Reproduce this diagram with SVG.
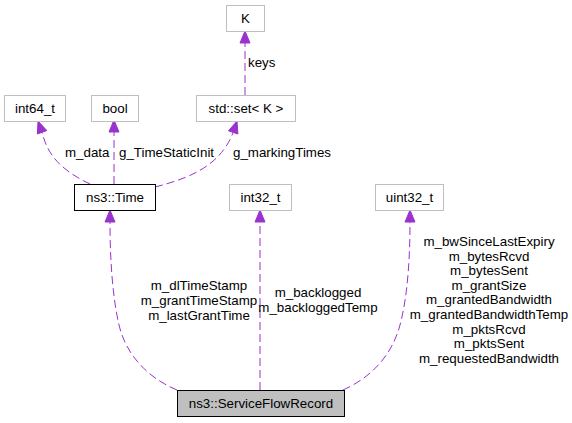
<svg xmlns="http://www.w3.org/2000/svg" width="572" height="423" viewBox="0 0 572 423">
<style>
text{font-family:"Liberation Sans",Arial,sans-serif;font-size:13.33px;fill:#000}
.n{text-anchor:middle}
.box{fill:#fff;stroke:#bfbfbf;stroke-width:1}
.e{fill:none;stroke:#9a32cd;stroke-width:1;stroke-dasharray:8,4}
.ah{fill:#9a32cd;stroke:#9a32cd;stroke-width:1}
.lbl{text-anchor:middle}
</style>
<rect width="572" height="423" fill="#fff"/>
<g id="connectors">
<path class="e" d="M245,95 L245,43"/>
<polygon class="ah" points="245,31 250,43 240,43"/>
<text x="248" y="67">keys</text>
<path class="e" d="M90,184 C75,177 60,167 52,155 C47,148 44,140 42.1,132.3"/>
<polygon class="ah" points="38,121 46.8,130.6 37.4,134"/>
<text x="65" y="157">m_data</text>
<path class="e" d="M114,184 L114,132"/>
<polygon class="ah" points="114,120 119,132 109,132"/>
<text x="119" y="157">g_TimeStaticInit</text>
<path class="e" d="M155,187 C175,182 195,175 208,165 C222,155 229,143 233.2,132.4"/>
<polygon class="ah" points="237,121 237.9,134 228.5,130.8"/>
<text x="233" y="157">g_markingTimes</text>
<path class="e" d="M177,390 C148,378 126,355 119,325 C112,295 110,255 110,222"/>
<polygon class="ah" points="110,210 115,222 105,222"/>
<text class="lbl" x="199" y="290">m_dlTimeStamp</text>
<text class="lbl" x="199" y="305">m_grantTimeStamp</text>
<text class="lbl" x="199" y="320">m_lastGrantTime</text>
<path class="e" d="M260,390 L260,222"/>
<polygon class="ah" points="260,210 265,222 255,222"/>
<text class="lbl" x="318" y="297">m_backlogged</text>
<text class="lbl" x="318" y="312">m_backloggedTemp</text>
<path class="e" d="M343,390 C372,377 392,355 400,325 C408,295 410,255 410,222"/>
<polygon class="ah" points="410,210 415,222 405,222"/>
<text class="lbl" x="489" y="246">m_bwSinceLastExpiry</text>
<text class="lbl" x="489" y="260.6">m_bytesRcvd</text>
<text class="lbl" x="489" y="275.2">m_bytesSent</text>
<text class="lbl" x="489" y="289.8">m_grantSize</text>
<text class="lbl" x="489" y="304.4">m_grantedBandwidth</text>
<text class="lbl" x="489" y="319">m_grantedBandwidthTemp</text>
<text class="lbl" x="489" y="333.6">m_pktsRcvd</text>
<text class="lbl" x="489" y="348.2">m_pktsSent</text>
<text class="lbl" x="489" y="362.8">m_requestedBandwidth</text>
</g>
<g id="node-K"><rect class="box" x="226.5" y="5.5" width="38" height="26"/><text class="n" x="245.5" y="23">K</text></g>
<g id="node-set"><rect class="box" x="196.5" y="95.5" width="99" height="26"/><text class="n" x="246" y="113">std::set&lt; K &gt;</text></g>
<g id="node-int64"><rect class="box" x="4.5" y="95.5" width="61" height="26"/><text class="n" x="35" y="113">int64_t</text></g>
<g id="node-bool"><rect class="box" x="91.5" y="95.5" width="47" height="26"/><text class="n" x="115" y="113">bool</text></g>
<g id="node-time"><rect x="74.5" y="184.5" width="81" height="26" fill="#fff" stroke="#000"/><text class="n" x="115" y="202">ns3::Time</text></g>
<g id="node-int32"><rect class="box" x="229.5" y="184.5" width="62" height="26"/><text class="n" x="260.5" y="202">int32_t</text></g>
<g id="node-uint32"><rect class="box" x="375.5" y="184.5" width="68" height="26"/><text class="n" x="409.5" y="202">uint32_t</text></g>
<g id="node-sfr"><rect x="177.5" y="390.5" width="167" height="26" fill="#bfbfbf" stroke="#000"/><text class="n" x="261" y="408">ns3::ServiceFlowRecord</text></g>
</svg>
